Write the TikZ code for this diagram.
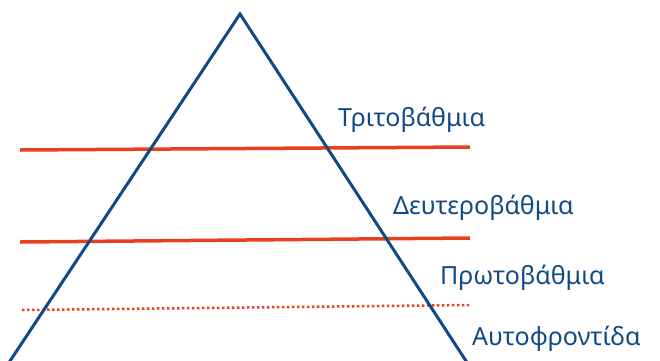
\documentclass[tikz,border=0pt]{standalone}
\usepackage{fontspec}
\setmainfont{Noto Sans}
\definecolor{pyrblue}{RGB}{16,74,134}
\definecolor{pyrred}{RGB}{232,64,30}
\begin{document}
\begin{tikzpicture}[x=1pt,y=-1pt,
  level/.style={anchor=base west,inner sep=0pt,text=pyrblue,font=\fontsize{25}{29}\selectfont},
  band/.style={draw=pyrred,line width=3.5pt},
  dotband/.style={draw=pyrred,line width=2.5pt,dash pattern=on 2.5pt off 2.5pt}]
\useasboundingbox (0,0) rectangle (660,360);
\clip (0,0) rectangle (660,360);
\coordinate (apex) at (240,14);
\coordinate (bl) at (8,364);
\coordinate (br) at (468,364);
\draw[band] (20,150) -- (470,147);
\draw[band] (20,242) -- (470,238);
\draw[dotband] (22,310) -- (469,305);
\draw[pyrblue,line width=3pt,line join=miter] (bl) -- (apex) -- (br);
\node[level] (t3) at (338,126) {Τριτοβάθμια};
\node[level] (t2) at (393,214) {Δευτεροβάθμια};
\node[level] (t1) at (440,284) {Πρωτοβάθμια};
\node[level] (t0) at (472,345) {Αυτοφροντίδα};
\end{tikzpicture}
\end{document}
